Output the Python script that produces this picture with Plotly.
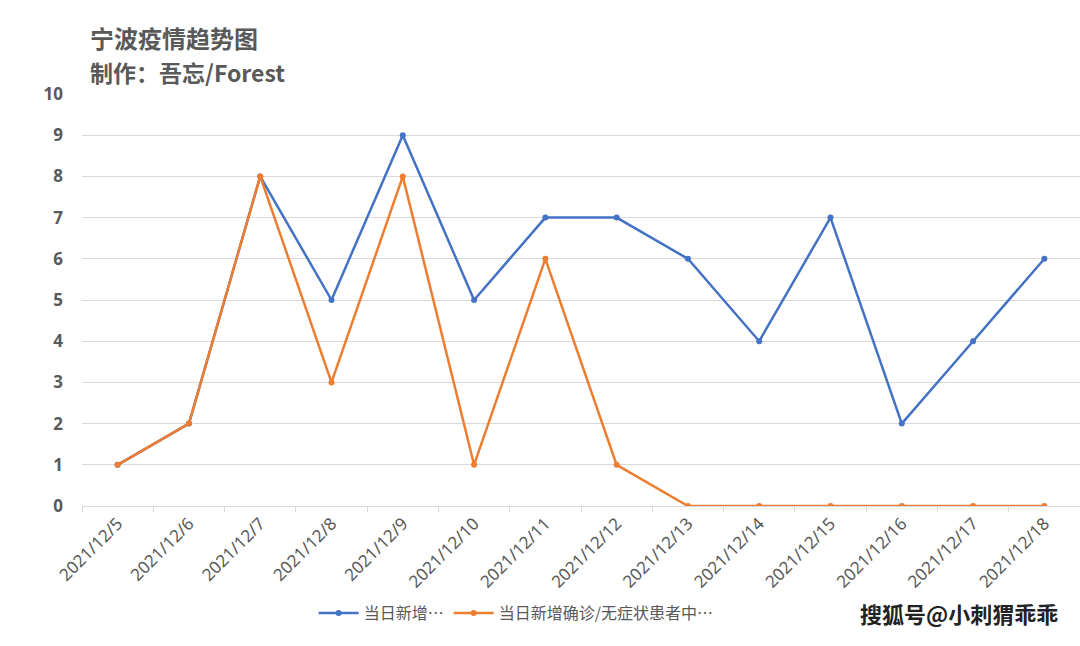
import plotly.graph_objects as go

dates = ["2021/12/5", "2021/12/6", "2021/12/7", "2021/12/8", "2021/12/9", "2021/12/10",
         "2021/12/11", "2021/12/12", "2021/12/13", "2021/12/14", "2021/12/15",
         "2021/12/16", "2021/12/17", "2021/12/18"]
new_total = [1, 2, 8, 5, 9, 5, 7, 7, 6, 4, 7, 2, 4, 6]
new_conf_in_quarantine = [1, 2, 8, 3, 8, 1, 6, 1, 0, 0, 0, 0, 0, 0]
name_blue = "当日新增…"
name_orange = "当日新增确诊/无症状患者中…"

FONT = "Noto Sans CJK SC, Noto Sans, sans-serif"
fig = go.Figure()
fig.add_trace(go.Scatter(x=dates, y=new_total, name=name_blue, mode="lines+markers",
                         line=dict(color="#4472C4", width=2.5),
                         marker=dict(size=6, color="#4472C4")))
fig.add_trace(go.Scatter(x=dates, y=new_conf_in_quarantine, name=name_orange, mode="lines+markers",
                         line=dict(color="#ED7D31", width=2.5),
                         marker=dict(size=6, color="#ED7D31")))

fig.update_layout(
    width=1080, height=646,
    margin=dict(l=82, r=0, t=94, b=140),
    paper_bgcolor="white", plot_bgcolor="white",
    font=dict(family=FONT, color="#595959"),
    showlegend=True,
    legend=dict(orientation="h", x=0.435, xanchor="center", y=-0.26, yanchor="middle",
                font=dict(size=16, color="#595959"), itemwidth=40, tracegroupgap=0),
    xaxis=dict(type="category", range=[-0.5, 13.5], tickangle=-45,
               tickson="boundaries", ticks="outside", ticklen=5, tickcolor="#d9d9d9",
               showgrid=False, showline=True, linecolor="#d9d9d9", linewidth=1,
               tickfont=dict(size=17, color="#595959", family="Noto Sans, sans-serif"),
               fixedrange=True),
    yaxis=dict(range=[0, 10], dtick=1, showgrid=True, gridcolor="#d9d9d9", gridwidth=1,
               zeroline=False, showline=False,
               tickfont=dict(size=17, color="#595959", family="Noto Sans, sans-serif", weight="bold"),
               ticklabelstandoff=18),
)
fig.add_annotation(text="<b>宁波疫情趋势图</b>", xref="paper", yref="paper", x=-0.0, y=1.0,
                   xanchor="left", yanchor="bottom", yshift=37, xshift=6, showarrow=False,
                   font=dict(size=24, color="#595959", family=FONT))
fig.add_annotation(text="<b>制作：吾忘/Forest</b>", xref="paper", yref="paper", x=-0.0, y=1.0,
                   xanchor="left", yanchor="bottom", yshift=3, xshift=6, showarrow=False,
                   font=dict(size=23, color="#595959", family=FONT))
fig.add_annotation(text="<b>搜狐号@小刺猬乖乖</b>", xref="paper", yref="paper", x=1.0, y=-0.26,
                   xanchor="right", yanchor="middle", xshift=-20, showarrow=False,
                   font=dict(size=22, color="#222222", family=FONT))

fig.write_html("out.html")
